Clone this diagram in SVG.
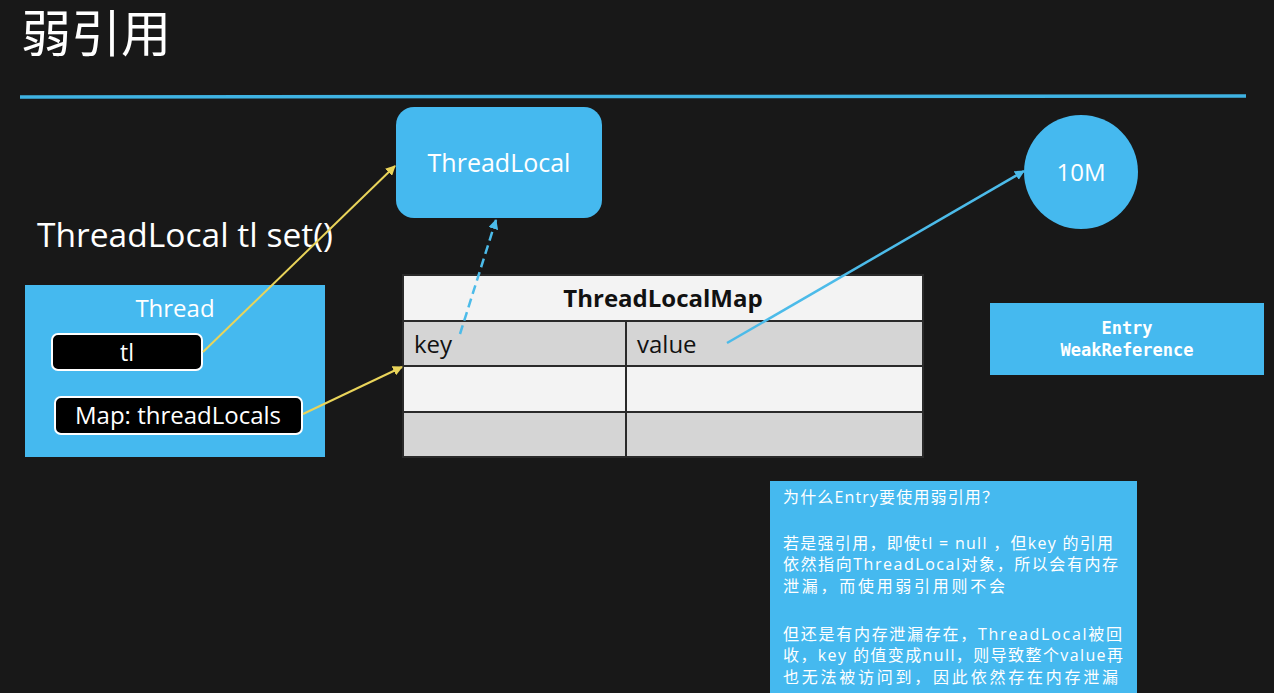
<svg xmlns="http://www.w3.org/2000/svg" width="1274" height="693" viewBox="0 0 1274 693">
<defs>
<style>
.bg{fill:#181818}
.blue{fill:#45b9ef}
.w{fill:#ffffff;font-family:"Open Sans","Noto Sans","Noto Sans CJK SC",sans-serif}
.k{fill:#111111;font-family:"Open Sans","Noto Sans",sans-serif}
.cjk{fill:#ffffff;font-family:"Open Sans","Noto Sans CJK SC",sans-serif;font-size:16px}
.mono{fill:#ffffff;font-family:"DejaVu Sans Mono","Liberation Mono",monospace;font-size:17px;font-weight:bold}
.pill{fill:#000000;stroke:#ffffff;stroke-width:2}
.cell{stroke:#2a2a2a;stroke-width:2}
.yel{stroke:#e9d45a;stroke-width:2;fill:none}
.bl{stroke:#4cbbe9;stroke-width:2.5;fill:none}
</style>
<marker id="ay" viewBox="0 0 10 10" refX="9" refY="5" markerWidth="5" markerHeight="5" orient="auto"><path d="M0,0 L10,5 L0,10 z" fill="#e9d45a"/></marker>
<marker id="ab" viewBox="0 0 10 10" refX="9" refY="5" markerWidth="4" markerHeight="4" orient="auto"><path d="M0,0 L10,5 L0,10 z" fill="#4cbbe9"/></marker>
</defs>
<rect class="bg" x="0" y="0" width="1274" height="693"/>
<text class="w" x="21" y="52" font-size="50" font-family="Noto Sans CJK SC">弱引用</text>
<line x1="20" y1="97" x2="1246" y2="96" stroke="#3fb3e3" stroke-width="3.5"/>
<text class="w" x="37" y="247" font-size="32" textLength="296" lengthAdjust="spacingAndGlyphs">ThreadLocal tl set()</text>

<g id="threadlocal">
<rect class="blue" x="396" y="107" width="206" height="111" rx="18"/>
<text class="w" x="499" y="172" font-size="25" text-anchor="middle">ThreadLocal</text>
</g>

<g id="thread">
<rect class="blue" x="25" y="285" width="300" height="172"/>
<text class="w" x="175" y="317" font-size="24" text-anchor="middle">Thread</text>
</g>
<g id="tl">
<rect class="pill" x="52" y="334" width="150" height="36" rx="6"/>
<text class="w" x="127" y="361" font-size="23" text-anchor="middle">tl</text>
</g>
<g id="map">
<rect class="pill" x="55" y="397" width="247" height="37" rx="6"/>
<text class="w" x="178" y="424" font-size="24" text-anchor="middle">Map: threadLocals</text>
</g>

<g id="threadlocalmap">
<rect x="403" y="275" width="520" height="46" fill="#f3f3f3" class="cell"/>
<rect x="403" y="321" width="520" height="45" fill="#d5d5d5" class="cell"/>
<rect x="403" y="366" width="520" height="46" fill="#f3f3f3" class="cell"/>
<rect x="403" y="412" width="520" height="45" fill="#d5d5d5" class="cell"/>
<line x1="626" y1="321" x2="626" y2="457" class="cell"/>
<text class="k" x="663" y="307" font-size="24" font-weight="bold" text-anchor="middle">ThreadLocalMap</text>
<text class="k" x="414" y="353" font-size="24">key</text>
<text class="k" x="637" y="353" font-size="24">value</text>
</g>

<g id="mem10m">
<circle class="blue" cx="1081" cy="172" r="57"/>
<text class="w" x="1081" y="181" font-size="24" text-anchor="middle">10M</text>
</g>

<g id="entry">
<rect class="blue" x="990" y="303" width="274" height="72"/>
<text class="mono" x="1127" y="334" text-anchor="middle">Entry</text>
<text class="mono" x="1127" y="356" text-anchor="middle">WeakReference</text>
</g>

<g id="note">
<rect class="blue" x="770" y="481" width="367" height="212"/>
<text class="cjk" x="783" y="503" textLength="215">为什么Entry要使用弱引用？</text>
<text class="cjk" x="783" y="549" textLength="330">若是强引用，即使tl = null ，但key 的引用</text>
<text class="cjk" x="783" y="570" textLength="335">依然指向ThreadLocal对象，所以会有内存</text>
<text class="cjk" x="783" y="592" textLength="222">泄漏，而使用弱引用则不会</text>
<text class="cjk" x="783" y="640" textLength="339">但还是有内存泄漏存在，ThreadLocal被回</text>
<text class="cjk" x="783" y="661" textLength="340">收，key 的值变成null，则导致整个value再</text>
<text class="cjk" x="783" y="683" textLength="335">也无法被访问到，因此依然存在内存泄漏</text>
</g>

<g id="connectors">
<line class="yel" x1="203" y1="352" x2="395" y2="166" marker-end="url(#ay)"/>
<line class="yel" x1="303" y1="414" x2="402" y2="367" marker-end="url(#ay)"/>
<line class="bl" x1="460" y1="334" x2="496" y2="220" stroke-dasharray="9,5" marker-end="url(#ab)"/>
<line class="bl" x1="727" y1="343" x2="1024" y2="171" marker-end="url(#ab)"/>
</g>
</svg>
